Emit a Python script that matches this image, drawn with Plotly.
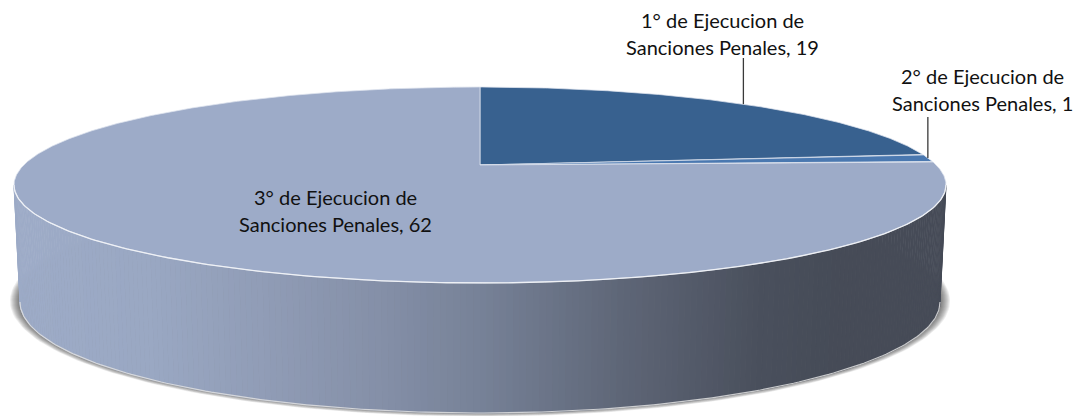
import numpy as np
import plotly.graph_objects as go

# ---- data
categories = ["1° de Ejecucion de Sanciones Penales",
              "2° de Ejecucion de Sanciones Penales",
              "3° de Ejecucion de Sanciones Penales"]
values = [19, 1, 62]
label_lines = [["1° de Ejecucion de", "Sanciones Penales, 19"],
               ["2° de Ejecucion de", "Sanciones Penales, 1"],
               ["3° de Ejecucion de", "Sanciones Penales, 62"]]
slice_colors = ["#38618f", "#4a78b0", "#9dabc8"]
wall_stops_x = [14, 150, 260, 380, 480, 620, 760, 830, 946]
wall_stops_rgb = [(158, 172, 200), (154, 168, 195), (145, 157, 183), (133, 144, 168),
                  (119, 130, 152), (95, 103, 120), (74, 80, 93), (70, 76, 88), (70, 75, 87)]
label_anchor = [(722, 20), (982, 76), (335, 197)]
LINE_STEP = 27
leader_top = [58, 117, None]

# ---- drawing geometry (pixel-scaled axes)
W, H = 1078, 416
CX, TOP_CY, TOP_RX, TOP_RY, APEX_Y = 480, 185, 466, 98, 165
BOT_CY, BOT_RX, BOT_RY = 302, 460, 111
c_p = (TOP_CY - APEX_Y) * 2 / (2 * TOP_RY)
b_p = TOP_CY - APEX_Y
a_p = TOP_RY
d_p = TOP_RX * np.sqrt(1 - c_p ** 2)


def rim(theta):
    """Project a disc angle (0 = back, clockwise) with perspective."""
    u, v = np.sin(theta), np.cos(theta)
    den = 1 + c_p * v
    return CX + d_p * u / den, TOP_CY - (a_p * v + b_p) / den


fig = go.Figure()
common = dict(mode="lines", hoverinfo="skip", showlegend=False)

# soft shadow under the drum
phi = np.linspace(0, 2 * np.pi, 240)
for grow in np.arange(10, 0, -1):
    fig.add_trace(go.Scatter(
        x=CX + (BOT_RX + grow) * np.cos(phi),
        y=BOT_CY - 1 + (BOT_RY + grow * 0.45) * np.sin(phi),
        fill="toself", fillcolor="rgba(50,50,50,0.085)",
        line=dict(width=0), **common))

# side wall as thin shaded strips
edges = np.linspace(0, np.pi, 221)
for p0, p1 in zip(edges[:-1], edges[1:]):
    xm = CX + TOP_RX * np.cos((p0 + p1) / 2)
    rgb = [np.interp(xm, wall_stops_x, [s[i] for s in wall_stops_rgb]) for i in range(3)]
    col = "rgb(%d,%d,%d)" % tuple(rgb)
    fig.add_trace(go.Scatter(
        x=[CX + TOP_RX * np.cos(p0), CX + TOP_RX * np.cos(p1),
           CX + BOT_RX * np.cos(p1), CX + BOT_RX * np.cos(p0)],
        y=[TOP_CY + TOP_RY * np.sin(p0), TOP_CY + TOP_RY * np.sin(p1),
           BOT_CY + BOT_RY * np.sin(p1), BOT_CY + BOT_RY * np.sin(p0)],
        fill="toself", fillcolor=col, line=dict(color=col, width=1), **common))

# light bevels around the wall
pf = np.linspace(0, np.pi, 200)
fig.add_trace(go.Scatter(x=CX + BOT_RX * np.cos(pf), y=BOT_CY + BOT_RY * np.sin(pf),
                         line=dict(color="rgba(225,225,225,0.85)", width=1.2), **common))

# top face slices
total = sum(values)
cum = 0
mids = []
for val, col, name in zip(values, slice_colors, categories):
    t0, t1 = 2 * np.pi * cum / total, 2 * np.pi * (cum + val) / total
    th = np.linspace(t0, t1, max(int(val * 12), 16))
    xs, ys = rim(th)
    fig.add_trace(go.Scatter(
        x=np.r_[CX, xs, CX], y=np.r_[APEX_Y, ys, APEX_Y], name=name,
        fill="toself", fillcolor=col,
        line=dict(color="rgba(222,227,238,0.75)", width=1), **common))
    mids.append((t0 + t1) / 2)
    cum += val

# bright front rim
fig.add_trace(go.Scatter(x=CX + TOP_RX * np.cos(pf), y=TOP_CY + TOP_RY * np.sin(pf),
                         line=dict(color="rgba(240,242,247,0.95)", width=1.3), **common))

# leader lines reach the middle of each slice's rim
for mid, top in zip(mids, leader_top):
    if top is None:
        continue
    mx, my = rim(mid)
    fig.add_trace(go.Scatter(x=[mx, mx], y=[top, my],
                             line=dict(color="#3a3a3a", width=1.3), **common))

# labels, one annotation per line
for lines, (ax_, ay_) in zip(label_lines, label_anchor):
    for i, line in enumerate(lines):
        fig.add_annotation(x=ax_, y=ay_ + i * LINE_STEP, text=line, showarrow=False,
                           xanchor="center", yanchor="middle",
                           font=dict(family="Lato", size=20, color="#111111"))

fig.update_layout(width=W, height=H, margin=dict(l=0, r=0, t=0, b=0),
                  paper_bgcolor="white", plot_bgcolor="white", showlegend=False,
                  xaxis=dict(range=[0, W], visible=False, fixedrange=True),
                  yaxis=dict(range=[H, 0], visible=False, fixedrange=True))

fig.write_html("out.html", config=dict(displayModeBar=False),
               post_script="document.body.style.margin='0';document.body.style.overflow='hidden';")
